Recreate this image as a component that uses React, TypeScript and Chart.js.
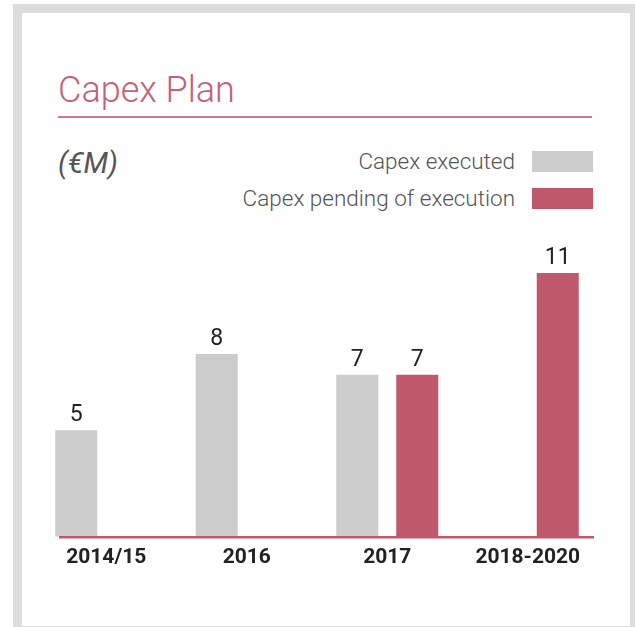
import React, { useEffect, useRef } from "react";
import { Chart, registerables } from "chart.js";

Chart.register(...registerables);

const title = "Capex Plan";
const unitLabel = "(€M)";
const categories = ["2014/15", "2016", "2017", "2018-2020"];
const seriesNames = ["Capex executed", "Capex pending of execution"];
const executed: (number | null)[] = [4.6, 7.9, 7.0, null];
const pending: (number | null)[] = [null, null, 7.0, 11.4];

const GREY = "#cbcccb";
const RED = "#c0586c";
const TITLE_COLOR = "#c5607a";
const TEXT_GREY = "#555555";
const FRAME = "#dcdddc";
const seriesColors = [GREY, RED];

const valueLabels = {
  id: "valueLabels",
  afterDatasetsDraw(chart: any) {
    const ctx = chart.ctx;
    ctx.save();
    ctx.font = "400 23px Roboto";
    ctx.fillStyle = "#222222";
    ctx.textAlign = "center";
    ctx.textBaseline = "alphabetic";
    chart.data.datasets.forEach((ds: any, di: number) => {
      const meta = chart.getDatasetMeta(di);
      meta.data.forEach((el: any, i: number) => {
        const v = ds.data[i];
        if (v == null) return;
        ctx.fillText(String(Math.round(v)), el.x, el.y - 9);
      });
    });
    ctx.restore();
  },
};

const baseline = {
  id: "baseline",
  afterDatasetsDraw(chart: any) {
    const ctx = chart.ctx;
    const y = chart.scales.y.getPixelForValue(0);
    ctx.save();
    ctx.strokeStyle = RED;
    ctx.lineWidth = 2.5;
    ctx.beginPath();
    ctx.moveTo(59, y + 0.5);
    ctx.lineTo(594, y + 0.5);
    ctx.stroke();
    ctx.restore();
  },
};

function CapexChart() {
  const ref = useRef<HTMLCanvasElement | null>(null);
  useEffect(() => {
    if (!ref.current) return;
    const chart = new Chart(ref.current, {
      type: "bar",
      data: {
        labels: categories,
        datasets: [
          {
            label: seriesNames[0],
            data: executed,
            backgroundColor: GREY,
            categoryPercentage: 0.854,
            barPercentage: 0.7,
          },
          {
            label: seriesNames[1],
            data: pending,
            backgroundColor: RED,
            categoryPercentage: 0.854,
            barPercentage: 0.7,
          },
        ],
      },
      options: {
        responsive: false,
        animation: false,
        devicePixelRatio: 1,
        layout: { padding: { left: 36, right: 37, top: 259, bottom: 49 } },
        plugins: {
          legend: { display: false },
          tooltip: { enabled: false },
          title: { display: false },
        },
        scales: {
          y: { display: false, min: 0, max: 12 },
          x: {
            grid: { display: false, drawTicks: false },
            border: { display: false },
            ticks: {
              color: "#222222",
              font: { family: "Roboto", size: 21, weight: "bold" },
              padding: 8,
              maxRotation: 0,
              autoSkip: false,
            },
          },
        },
      },
      plugins: [valueLabels, baseline],
    });
    return () => chart.destroy();
  }, []);
  return (
    <canvas
      ref={ref}
      width={635}
      height={627}
      style={{ position: "absolute", left: 0, top: 0, width: 635, height: 627 }}
    />
  );
}

export default function App() {
  return (
    <div
      style={{
        position: "fixed",
        left: 0,
        top: 0,
        width: 635,
        height: 627,
        overflow: "hidden",
        background: "#ffffff",
        fontFamily: "Roboto, sans-serif",
      }}
    >
      <div
        style={{
          position: "absolute",
          left: 13,
          top: 4,
          width: 626,
          height: 631,
          boxSizing: "border-box",
          border: `9px solid ${FRAME}`,
        }}
      />
      <div
        style={{
          position: "absolute",
          left: 58,
          top: 72,
          font: "300 36px Roboto",
          lineHeight: "36px",
          color: TITLE_COLOR,
          whiteSpace: "nowrap",
        }}
      >
        {title}
      </div>
      <div
        style={{
          position: "absolute",
          left: 58,
          top: 116,
          width: 534,
          height: 2,
          background: "#cf7a8c",
        }}
      />
      <div
        style={{
          position: "absolute",
          left: 58,
          top: 149,
          font: "italic 400 29px Roboto",
          lineHeight: "29px",
          color: TEXT_GREY,
          whiteSpace: "nowrap",
        }}
      >
        {unitLabel}
      </div>
      {seriesNames.map((name, i) => (
        <div
          key={name}
          style={{
            position: "absolute",
            right: 42,
            top: 151 + i * 37,
            height: 21,
            display: "flex",
            alignItems: "center",
            justifyContent: "flex-end",
            whiteSpace: "nowrap",
          }}
        >
          <span
            style={{
              font: "300 22.5px Roboto",
              lineHeight: "21px",
              color: TEXT_GREY,
              marginRight: 17,
            }}
          >
            {name}
          </span>
          <span
            style={{
              display: "inline-block",
              width: 61,
              height: 21,
              background: seriesColors[i],
            }}
          />
        </div>
      ))}
      <CapexChart />
    </div>
  );
}
